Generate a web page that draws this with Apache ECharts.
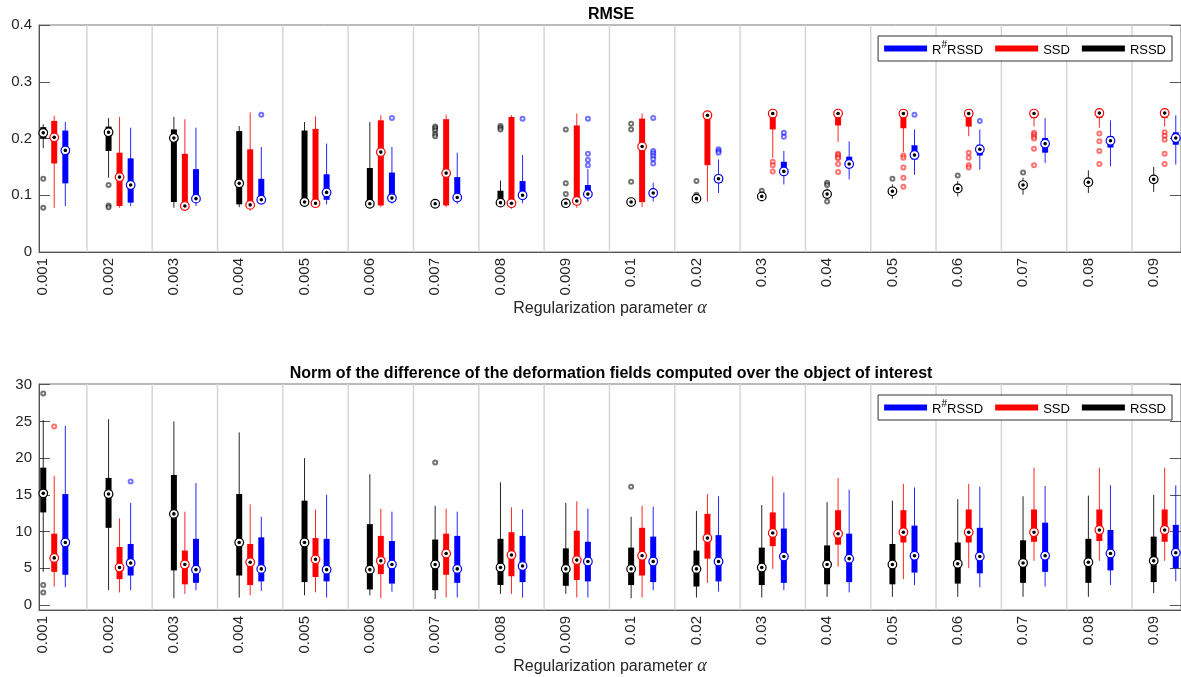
<!DOCTYPE html>
<html><head><meta charset="utf-8">
<script src="https://cdn.jsdelivr.net/npm/echarts@6/dist/echarts.min.js"></script>
<style>html,body{margin:0;padding:0;background:#fff}#c{width:1181px;height:677px}</style>
</head><body><div id="c"></div>
<script>
const categories = ['0.001','0.002','0.003','0.004','0.005','0.006','0.007','0.008','0.009','0.01','0.02','0.03','0.04','0.05','0.06','0.07','0.08','0.09'];
const seriesNames = ['RSSD','SSD','R#RSSD'];
const legendOrder = ['R#RSSD','SSD','RSSD'];
const yTicksRmse = [0, 0.1, 0.2, 0.3, 0.4];
const yTicksNorm = [0, 5, 10, 15, 20, 25, 30];

// box stats per category: [lower whisker, q1, median, q3, upper whisker]
const rmseRSSD = [
 [0.183,0.200,0.210,0.220,0.225],[0.131,0.178,0.211,0.221,0.236],[0.078,0.088,0.201,0.216,0.238],
 [0.079,0.084,0.121,0.213,0.222],[0.082,0.088,0.088,0.214,0.229],[0.081,0.085,0.085,0.148,0.229],
 [0.082,0.083,0.085,0.087,0.088],[0.085,0.087,0.087,0.108,0.126],[0.082,0.084,0.086,0.088,0.091],
 [0.083,0.086,0.088,0.090,0.092],[0.089,0.092,0.094,0.096,0.098],[0.089,0.095,0.098,0.101,0.105],
 [0.094,0.098,0.102,0.106,0.112],[0.094,0.103,0.107,0.110,0.119],[0.098,0.108,0.112,0.115,0.125],
 [0.101,0.113,0.118,0.121,0.131],[0.104,0.118,0.123,0.127,0.144],[0.106,0.122,0.128,0.133,0.150]];
const rmseRSSDOut = [[0,0.129],[0,0.078],[1,0.118],[1,0.082],[1,0.079],[6,0.221],[6,0.218],[6,0.214],[6,0.208],[6,0.204],
 [7,0.222],[7,0.219],[7,0.216],[8,0.216],[8,0.121],[8,0.102],[9,0.226],[9,0.216],[9,0.124],[10,0.125],[10,0.101],
 [11,0.108],[12,0.122],[12,0.118],[12,0.089],[13,0.129],[14,0.135],[15,0.140]];
const rmseSSD = [
 [0.078,0.156,0.202,0.231,0.240],[0.078,0.081,0.132,0.175,0.238],[0.075,0.080,0.081,0.173,0.234],
 [0.073,0.083,0.083,0.181,0.246],[0.081,0.086,0.086,0.217,0.239],[0.079,0.082,0.176,0.232,0.241],
 [0.079,0.082,0.139,0.234,0.242],[0.076,0.085,0.086,0.238,0.241],[0.078,0.089,0.090,0.223,0.244],
 [0.079,0.088,0.186,0.235,0.244],[0.089,0.153,0.241,0.241,0.243],[0.166,0.216,0.244,0.245,0.246],
 [0.194,0.223,0.244,0.245,0.246],[0.176,0.218,0.244,0.245,0.246],[0.204,0.221,0.244,0.245,0.246],
 [0.221,0.236,0.244,0.246,0.247],[0.219,0.236,0.245,0.246,0.247],[0.221,0.236,0.245,0.246,0.247]];
const rmseSSDOut = [[11,0.159],[11,0.153],[11,0.142],[12,0.173],[12,0.171],[12,0.167],[12,0.165],[12,0.155],[12,0.141],
 [13,0.170],[13,0.166],[13,0.149],[13,0.131],[13,0.115],[14,0.175],[14,0.166],[14,0.153],[14,0.149],
 [15,0.210],[15,0.207],[15,0.203],[15,0.200],[15,0.182],[15,0.153],[16,0.209],[16,0.195],[16,0.178],[16,0.155],
 [17,0.211],[17,0.205],[17,0.198],[17,0.173],[17,0.155]];
const rmseRR = [
 [0.081,0.121,0.179,0.214,0.229],[0.081,0.087,0.118,0.165,0.219],[0.081,0.094,0.094,0.146,0.219],
 [0.085,0.092,0.092,0.129,0.185],[0.084,0.092,0.105,0.137,0.191],[0.085,0.094,0.095,0.140,0.185],
 [0.085,0.092,0.096,0.132,0.175],[0.086,0.098,0.100,0.125,0.171],[0.089,0.100,0.102,0.118,0.146],
 [0.089,0.098,0.104,0.108,0.122],[0.104,0.122,0.129,0.136,0.163],[0.119,0.142,0.142,0.159,0.178],
 [0.128,0.148,0.155,0.168,0.195],[0.136,0.163,0.171,0.188,0.216],[0.145,0.170,0.181,0.189,0.216],
 [0.157,0.175,0.191,0.201,0.236],[0.151,0.184,0.196,0.204,0.232],[0.154,0.189,0.201,0.211,0.241]];
const rmseRROut = [[3,0.242],[5,0.236],[7,0.235],[8,0.235],[8,0.173],[8,0.162],[8,0.153],
 [9,0.236],[9,0.178],[9,0.174],[9,0.169],[9,0.164],[9,0.156],[10,0.181],[10,0.178],[10,0.175],
 [11,0.210],[11,0.203],[13,0.242],[14,0.231]];

const normRSSD = [
 [4.5,12.6,15.2,18.7,25.2],[2.0,10.5,15.1,17.3,25.3],[0.9,4.7,12.4,17.7,25.0],[1.0,4.0,8.5,15.1,23.5],
 [1.3,3.1,8.5,14.2,20.0],[1.3,2.1,4.8,11.0,17.8],[0.8,2.0,5.5,8.9,13.5],[1.5,2.7,5.1,9.0,16.7],
 [1.5,2.6,4.9,7.7,13.9],[0.9,2.7,4.9,7.8,12.0],[1.0,2.5,4.9,7.4,12.8],[1.0,2.7,5.1,7.8,13.6],
 [1.1,2.8,5.5,8.1,14.0],[1.1,2.8,5.5,8.3,14.2],[1.1,2.9,5.6,8.5,14.4],[1.1,3.0,5.7,8.8,14.8],
 [1.1,3.0,5.8,9.0,14.9],[1.6,3.1,6.0,9.3,15.0]];
const normRSSDOut = [[0,28.8],[0,2.7],[0,1.7],[6,19.4],[9,16.1]];
const normSSD = [
 [2.5,4.5,6.4,9.7,17.6],[1.7,3.5,5.1,7.9,11.8],[1.5,2.8,5.5,7.4,12.7],[1.3,2.7,5.8,8.3,13.7],
 [1.7,3.8,6.2,9.1,13.0],[0.9,4.2,6.0,9.4,13.1],[1.0,4.1,7.0,9.7,13.1],[1.5,3.9,6.8,9.9,13.3],
 [1.0,3.4,6.1,10.1,14.1],[1.0,4.0,6.7,10.5,13.5],[3.0,6.3,9.1,12.4,15.1],[4.9,8.0,9.8,12.6,17.5],
 [5.2,8.2,9.7,12.9,17.3],[3.5,8.5,9.9,12.9,16.5],[5.0,8.5,9.9,13.0,16.5],[6.0,8.6,9.9,13.0,18.7],
 [6.0,8.7,10.2,13.0,18.7],[6.0,8.6,10.2,13.0,18.7]];
const normSSDOut = [[0,24.3]];
const normRR = [
 [2.4,4.1,8.5,15.1,24.4],[2.0,4.0,5.7,8.3,13.9],[2.0,3.0,4.8,9.0,16.6],[1.9,3.2,4.9,9.2,12.0],
 [1.0,3.2,4.8,9.0,15.0],[1.8,2.9,5.5,8.7,12.7],[1.0,3.0,4.9,9.4,12.7],[1.0,3.1,5.3,9.4,13.0],
 [1.0,3.2,5.9,8.6,13.1],[2.0,3.1,5.9,9.3,13.4],[1.8,3.2,5.9,9.5,14.8],[2.0,3.0,6.6,10.4,15.3],
 [1.7,3.1,6.3,9.7,15.7],[2.7,4.4,6.7,10.8,16.0],[2.4,4.3,6.6,10.5,16.1],[2.5,4.5,6.7,11.2,16.2],
 [2.7,4.7,7.0,10.2,16.3],[3.2,5.0,7.1,10.9,16.3]];
const normRROut = [[1,16.8]];

const colors = {'RSSD':'#000000','SSD':'#ff0000','R#RSSD':'#0000ff'};
const offsets = {'RSSD':0.332,'SSD':0.5,'R#RSSD':0.67};
const TXT = '#262626';
const FONT = 'Liberation Sans, Arial, Helvetica, sans-serif';

function boxRender(color){
  return function(params, api){
    const x = api.value(0);
    const lo = api.coord([x, api.value(1)]);
    const q1 = api.coord([x, api.value(2)]);
    const md = api.coord([x, api.value(3)]);
    const q3 = api.coord([x, api.value(4)]);
    const hi = api.coord([x, api.value(5)]);
    const bw = 6;
    return {type:'group', children:[
      {type:'line', shape:{x1:lo[0],y1:lo[1],x2:hi[0],y2:hi[1]}, style:{stroke:color, lineWidth:1, opacity:0.85}},
      {type:'rect', shape:{x:q3[0]-bw/2, y:q3[1], width:bw, height:Math.max(q1[1]-q3[1],1)}, style:{fill:color}},
      {type:'circle', shape:{cx:md[0], cy:md[1], r:4.3}, style:{fill:'#fff', stroke:color, lineWidth:1.2}},
      {type:'circle', shape:{cx:md[0], cy:md[1], r:1.8}, style:{fill:'#000'}}
    ]};
  };
}
function methodSeries(name, stats, outs, xi, yi){
  const c = colors[name], off = offsets[name];
  return [{
    type:'custom', name:name, xAxisIndex:xi, yAxisIndex:yi, z:3,
    itemStyle:{color:c}, renderItem: boxRender(c), encode:{x:0, y:[1,2,3,4,5]},
    data: stats.map((s,i)=>[i+off].concat(s))
  },{
    type:'scatter', name:name, xAxisIndex:xi, yAxisIndex:yi, z:2, silent:true,
    symbol:'emptyCircle', symbolSize:4,
    itemStyle:{color:c, opacity:0.55, borderWidth:0.75},
    data: outs.map(o=>[o[0]+off, o[1]])
  }];
}
function sepSeries(xi, yi, ymin, ymax){
  return {type:'custom', xAxisIndex:xi, yAxisIndex:yi, silent:true, z:1,
    data: categories.slice(1).map((c,i)=>[i+1]),
    renderItem:(p,api)=>{
      const a = api.coord([api.value(0), ymin]), b = api.coord([api.value(0), ymax]);
      return {type:'line', shape:{x1:a[0],y1:a[1],x2:b[0],y2:b[1]}, style:{stroke:'#d6d6d6', lineWidth:1.5}};
    }};
}
const XMIN = 0.267, XMAX = 17.75;
function xAxisDef(gi){
  return {gridIndex:gi, type:'value', min:XMIN, max:XMAX,
    axisLine:{show:true, onZero:false, lineStyle:{color:'#555'}}, axisTick:{show:false}, splitLine:{show:false},
    axisLabel:{customValues: categories.map((c,i)=>i+offsets['RSSD']), formatter:v=>categories[Math.round(v-offsets['RSSD'])],
      rotate:90, fontSize:15, color:TXT, margin:6, fontFamily:FONT},
    name:'{n|Regularization parameter }{a|α}', nameLocation:'middle', nameGap:43,
    nameTextStyle:{rich:{n:{fontSize:16, color:TXT, fontFamily:FONT}, a:{fontSize:18, color:TXT, fontStyle:'italic', fontFamily:'Liberation Serif, DejaVu Serif, serif'}}}
  };
}
function yAxisDefs(gi, min, max, ticks, fmt){
  return [{gridIndex:gi, type:'value', min:min, max:max, position:'left',
    axisLine:{show:true, onZero:false, lineStyle:{color:'#555'}},
    axisTick:{show:true, inside:true, length:11, customValues:ticks, lineStyle:{color:'#555'}},
    axisLabel:{customValues:ticks, formatter:fmt, fontSize:15, color:TXT, margin:7, fontFamily:FONT},
    splitLine:{show:false}},
   {gridIndex:gi, type:'value', min:min, max:max, position:'right',
    axisLine:{show:true, onZero:false, lineStyle:{color:'#555'}},
    axisTick:{show:true, inside:true, length:11, customValues:ticks, lineStyle:{color:'#555'}},
    axisLabel:{show:false}, splitLine:{show:false}}];
}
function legendDef(top){
  return {top:top, right:9, orient:'horizontal', icon:'rect', itemWidth:43, itemHeight:6, itemGap:12,
    padding:[4,6,4,6], borderColor:'#333', borderWidth:1, backgroundColor:'#fff', selectedMode:false,
    data: legendOrder,
    formatter: n => n==='R#RSSD' ? '{a|R}{s|#}{a|RSSD}' : '{a|'+n+'}',
    textStyle:{fontSize:13, color:'#000', fontFamily:FONT,
      rich:{a:{fontSize:13, color:'#000', fontFamily:FONT, lineHeight:17, verticalAlign:'bottom'},
            s:{fontSize:10, color:'#000', fontFamily:FONT, lineHeight:17, verticalAlign:'top'}}}
  };
}
const chart = echarts.init(document.getElementById('c'), null, {renderer:'canvas'});
const series = [
  sepSeries(0,0,0,0.4), sepSeries(1,2,-0.7,30.1),
  ...methodSeries('RSSD', rmseRSSD, rmseRSSDOut, 0, 0),
  ...methodSeries('SSD', rmseSSD, rmseSSDOut, 0, 0),
  ...methodSeries('R#RSSD', rmseRR, rmseRROut, 0, 0),
  ...methodSeries('RSSD', normRSSD, normRSSDOut, 1, 2),
  ...methodSeries('SSD', normSSD, normSSDOut, 1, 2),
  ...methodSeries('R#RSSD', normRR, normRROut, 1, 2)
];
chart.setOption({
  animation:false,
  backgroundColor:'#fff',
  textStyle:{fontFamily:FONT},
  title:[
    {text:'RMSE', left:611, top:7, textAlign:'center', padding:0, textStyle:{fontSize:16, fontWeight:'bold', color:'#000', fontFamily:FONT}},
    {text:'Norm of the difference of the deformation fields computed over the object of interest', left:611, top:366, textAlign:'center', padding:0,
     textStyle:{fontSize:16, fontWeight:'bold', color:'#000', fontFamily:FONT}}
  ],
  legend:[legendDef(36), legendDef(395)],
  grid:[
    {left:39, top:25, width:1145, height:227, show:true, borderColor:'#777', borderWidth:1, backgroundColor:'#fff'},
    {left:39, top:384, width:1145, height:226, show:true, borderColor:'#777', borderWidth:1, backgroundColor:'#fff'}
  ],
  xAxis:[xAxisDef(0), xAxisDef(1)],
  yAxis:[
    ...yAxisDefs(0, 0, 0.4, yTicksRmse, v => v===0 ? '0' : v.toFixed(1)),
    ...yAxisDefs(1, -0.7, 30.1, yTicksNorm, v => String(Math.round(v)))
  ],
  series: series
});
</script></body></html>
